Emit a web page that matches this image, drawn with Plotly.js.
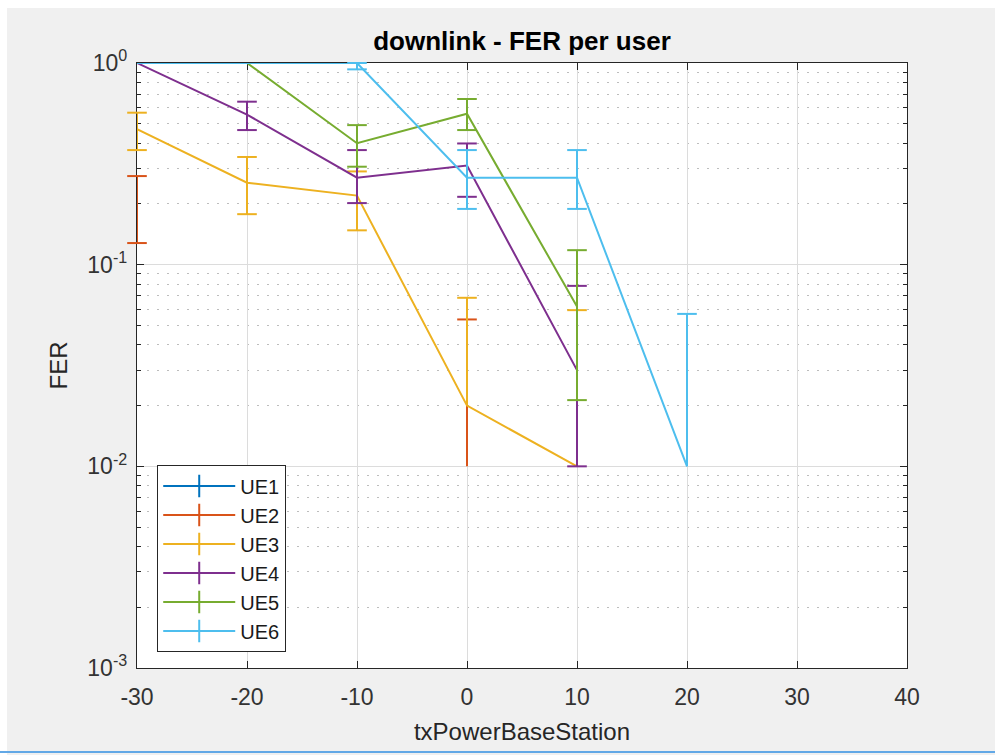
<!DOCTYPE html>
<html><head><meta charset="utf-8">
<script src="https://cdn.plot.ly/plotly-3.0.1.min.js"></script>
<style>
body{margin:0;background:#f0f0f0;}
#wrap{position:relative;width:995px;height:755px;overflow:hidden;}
#chart{width:995px;height:755px;}
.edge{position:absolute;background:#ffffff;}
</style>
</head><body>
<div id="wrap"><div id="chart"></div>
<div class="edge" style="left:0;top:0;width:995px;height:8px"></div>
<div class="edge" style="left:0;top:0;width:7px;height:755px"></div>
<div class="edge" style="left:0;top:751px;width:995px;height:2px;background:#62a8e6"></div>
</div>
<script>
// x categories (txPowerBaseStation)
const txPower = [-30, -20, -10, 0, 10, 20];
const seriesNames = ['UE1', 'UE2', 'UE3', 'UE4', 'UE5', 'UE6'];
const seriesColors = ['#0072BD', '#D95319', '#EDB120', '#7E2F8E', '#77AC30', '#4DBEEE'];

// FER values (null = zero / not drawn on log axis)
const ferUE1 = [1, 1, 1, null, null, null];
const ferUE2 = [0.2, null, null, 0.01, null, null];
const ferUE3 = [0.47, 0.255, 0.22, 0.02, 0.01, null];
const ferUE4 = [1, 0.555, 0.27, 0.31, 0.03, null];
const ferUE5 = [1, 1, 0.4, 0.56, 0.062, null];
const ferUE6 = [1, 1, 1, 0.27, 0.27, 0.01];

// error bar upper bounds (null = no bar)
const upperUE1 = [null, null, null, null, null, null];
const upperUE2 = [0.275, null, null, 0.0535, null, null];
const upperUE3 = [0.567, 0.342, 0.29, 0.0685, 0.0595, null];
const upperUE4 = [null, 0.643, 0.37, 0.399, 0.0785, null];
const upperUE5 = [null, null, 0.492, 0.663, 0.118, null];
const upperUE6 = [null, null, 1, 0.37, 0.37, 0.057];

// error bar lower bounds (null = lower bound at zero, not drawn)
const lowerUE1 = [null, null, null, null, null, null];
const lowerUE2 = [0.128, null, null, null, null, null];
const lowerUE3 = [0.37, 0.178, 0.148, null, null, null];
const lowerUE4 = [null, 0.465, 0.202, 0.217, 0.01, null];
const lowerUE5 = [null, null, 0.306, 0.465, 0.0213, null];
const lowerUE6 = [null, null, 0.93, 0.189, 0.189, null];

const ferAll = [ferUE1, ferUE2, ferUE3, ferUE4, ferUE5, ferUE6];
const upperAll = [upperUE1, upperUE2, upperUE3, upperUE4, upperUE5, upperUE6];
const lowerAll = [lowerUE1, lowerUE2, lowerUE3, lowerUE4, lowerUE5, lowerUE6];

const yTickVals = [0.001, 0.01, 0.1, 1];
const yTickText = ['10<sup>-3</sup>', '10<sup>-2</sup>', '10<sup>-1</sup>', '10<sup>0</sup>'];
const xTickVals = [-30, -20, -10, 0, 10, 20, 30, 40];
const xTickText = ['-30', '-20', '-10', '0', '10', '20', '30', '40'];

const traces = [];
seriesNames.forEach(function(name, s) {
  const col = seriesColors[s];
  const fer = ferAll[s], up = upperAll[s], lo = lowerAll[s];
  const bx = [], by = [], cx = [], cy = [];
  txPower.forEach(function(x, i) {
    if (up[i] !== null && fer[i] !== null) {
      bx.push(x, x, null);
      by.push(lo[i] !== null ? lo[i] : fer[i], up[i], null);
      cx.push(x); cy.push(up[i]);
      if (lo[i] !== null) { cx.push(x); cy.push(lo[i]); }
    }
  });
  traces.push({x: txPower, y: fer, mode: 'lines', line: {color: col, width: 2},
    showlegend: false, hoverinfo: 'skip', connectgaps: false});
  traces.push({x: bx, y: by, mode: 'lines', line: {color: col, width: 2},
    showlegend: false, hoverinfo: 'skip'});
  traces.push({x: cx, y: cy, mode: 'markers', showlegend: false, hoverinfo: 'skip', cliponaxis: false,
    marker: {symbol: 'line-ew-open', size: 14, color: col, line: {color: col, width: 2}}});
});
// legend entries
seriesNames.forEach(function(name, s) {
  const col = seriesColors[s];
  traces.push({x: [null], y: [null], name: name, mode: 'lines+markers',
    line: {color: col, width: 2},
    marker: {symbol: 'line-ns-open', size: 20, color: col, line: {color: col, width: 2}}});
});

const axisCol = '#262626';
const fontFam = 'Liberation Sans, Arial, sans-serif';
const layout = {
  width: 995, height: 755,
  paper_bgcolor: '#f0f0f0', plot_bgcolor: '#ffffff',
  margin: {l: 137, r: 88, t: 63, b: 87},
  font: {family: fontFam, color: axisCol},
  title: {text: '<b>downlink - FER per user</b>', x: 0.5, xref: 'paper',
    y: 1 - 41 / 755, yref: 'container', yanchor: 'middle',
    font: {size: 26, color: '#000000', family: fontFam}},
  xaxis: {range: [-30, 40], tickmode: 'array', tickvals: xTickVals, ticktext: xTickText,
    ticks: 'inside', ticklen: 7, tickcolor: axisCol, tickwidth: 1, ticklabelstandoff: 8,
    showline: true, linecolor: axisCol, linewidth: 1.2, mirror: 'ticks', layer: 'below traces',
    showgrid: true, gridcolor: '#dcdcdc', gridwidth: 1, zeroline: false,
    tickfont: {size: 23, color: '#333333'},
    title: {text: 'txPowerBaseStation', font: {size: 24, color: '#262626'}, standoff: 14}},
  yaxis: {type: 'log', range: [-3, 0], tickmode: 'array', tickvals: yTickVals, ticktext: yTickText,
    ticks: 'inside', ticklen: 7, tickcolor: axisCol, tickwidth: 1, ticklabelstandoff: 4,
    showline: true, linecolor: axisCol, linewidth: 1.2, mirror: 'ticks', layer: 'below traces',
    showgrid: true, gridcolor: '#dcdcdc', gridwidth: 1, zeroline: false,
    tickfont: {size: 23, color: '#333333'},
    minor: {dtick: 'D1', ticks: 'inside', ticklen: 4, tickcolor: axisCol,
      showgrid: true, gridcolor: '#bdbdbd', griddash: '2px,8px', gridwidth: 1},
    title: {text: 'FER', font: {size: 24, color: '#262626'}, standoff: 12}},
  legend: {x: 0.026, y: 0.026, xanchor: 'left', yanchor: 'bottom',
    bgcolor: '#ffffff', bordercolor: axisCol, borderwidth: 1.2,
    font: {size: 20, color: '#1a1a1a'}, traceorder: 'normal', itemwidth: 72},
  showlegend: true
};
Plotly.newPlot('chart', traces, layout, {staticPlot: true, displayModeBar: false});
</script>
</body></html>
